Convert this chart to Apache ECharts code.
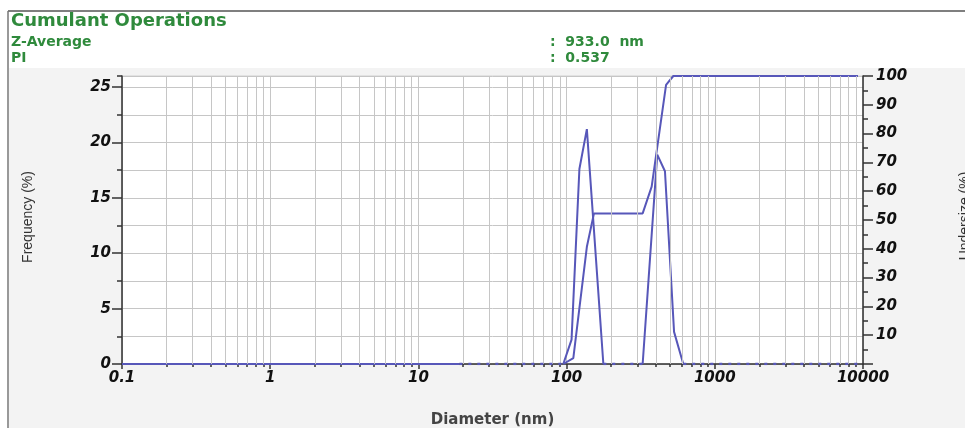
<!DOCTYPE html>
<html>
<head>
<meta charset="utf-8">
<title>Cumulant Operations</title>
<script src="https://cdn.jsdelivr.net/npm/echarts@6/dist/echarts.min.js"></script>
<style>
html, body { margin: 0; padding: 0; background: #fff; }
#chart { width: 965px; height: 428px; }
</style>
</head>
<body>
<div id="chart"></div>
<script>
// diameter (nm) and frequency (%); null = break in the trace
const freqSize = [0.1, 18.9, 50, 95, 108, 122, 137, 177, 250, 326, 409, 461, 531, 613];
const freqPct  = [0,   0,    null, 0, 2.2, 17.6, 21.2, 0, null, 0, 18.9, 17.4, 2.9, 0];

// cumulative undersize (%)
const cumSize = [95, 111, 137, 153, 326, 375, 469, 525, 9250];
const undersizePct = [0, 2.0, 40.7, 52.3, 52.3, 61.6, 96.9, 100, 100];

// dotted baseline between the peaks
const dotSize = [18.9, 95, 130, 177, 326, 450, 613, 9250];
const dotPct  = [0, 0, null, 0, 0, null, 0, 0];

const xTicks = [0.1, 1, 10, 100, 1000, 10000];
const leftTicks = [0, 5, 10, 15, 20, 25];
const minorSteps = [2, 3, 4, 5, 6, 7, 8, 9];

const green = '#2f8a3c';
const lineColor = '#5757b9';
const gridColor = '#c6c6c6';
const tickFont = { fontFamily: 'DejaVu Sans', fontWeight: 'bold', fontStyle: 'italic', fontSize: 15, color: '#111' };

function pairs(xs, ys) {
  return xs.map((x, i) => [x, ys[i] === null ? '-' : ys[i]]);
}

// vertical grid lines at 2..9 of each decade
let minorLines = [];
xTicks.slice(0, -1).forEach(d => {
  minorSteps.forEach(m => minorLines.push({ xAxis: +(d * m).toPrecision(3) }));
});

const chart = echarts.init(document.getElementById('chart'));

let option = {
  animation: false,
  grid: {
    left: 122, right: 102, top: 76, bottom: 64,
    outerBoundsMode: 'none',
    show: true,
    backgroundColor: '#fff',
    borderColor: '#d0d0d0',
    borderWidth: 1
  },
  graphic: [
    { type: 'rect', z: -100, shape: { x: 9, y: 68, width: 956, height: 360 }, style: { fill: '#f3f3f3' } },
    { type: 'line', shape: { x1: 8, y1: 11, x2: 965, y2: 11 }, style: { stroke: '#555', lineWidth: 1.5 } },
    { type: 'line', shape: { x1: 8, y1: 11, x2: 8, y2: 428 }, style: { stroke: '#777', lineWidth: 1.5 } },
    { type: 'text', x: 11, y: 12, style: { text: 'Cumulant Operations', fill: green, font: 'bold 18px "DejaVu Sans"' } },
    { type: 'text', x: 11, y: 35, style: { text: 'Z-Average', fill: green, font: 'bold 14px "DejaVu Sans"' } },
    { type: 'text', x: 11, y: 51, style: { text: 'PI', fill: green, font: 'bold 14px "DejaVu Sans"' } },
    { type: 'text', x: 550, y: 35, style: { text: ':  933.0  nm', fill: green, font: 'bold 14px "DejaVu Sans"' } },
    { type: 'text', x: 550, y: 51, style: { text: ':  0.537', fill: green, font: 'bold 14px "DejaVu Sans"' } },
    { type: 'text', x: 28, y: 217, rotation: Math.PI / 2,
      style: { text: 'Frequency (%)', fill: '#333', font: '14px "Liberation Sans"', textAlign: 'center', textVerticalAlign: 'middle' } },
    { type: 'text', x: 965, y: 216, rotation: Math.PI / 2,
      style: { text: 'Undersize (%)', fill: '#333', font: '14px "Liberation Sans"', textAlign: 'center', textVerticalAlign: 'middle' } }
  ],
  xAxis: {
    type: 'log',
    logBase: 10,
    min: 0.1,
    max: 10000,
    name: 'Diameter (nm)',
    nameLocation: 'middle',
    nameGap: 49,
    nameTextStyle: { fontFamily: 'DejaVu Sans', fontWeight: 'bold', fontSize: 15, color: '#444' },
    axisLine: { lineStyle: { color: '#333', width: 1.5 } },
    axisTick: { show: true, length: 5, lineStyle: { color: '#333', width: 1.5 } },
    minorTick: { show: true, splitNumber: 9, length: 3, lineStyle: { color: '#333', width: 1.5 } },
    axisLabel: Object.assign({ margin: 7, showMaxLabel: true, showMinLabel: true,
      formatter: v => String(v) }, tickFont),
    splitLine: { show: true, lineStyle: { color: gridColor, width: 1 } }
  },
  yAxis: [
    {
      type: 'value', position: 'left', min: 0, max: 26, interval: 5,
      axisLine: { show: true, lineStyle: { color: '#333', width: 1.5 } },
      axisTick: { show: true, length: 10, customValues: leftTicks, lineStyle: { color: '#333', width: 1.5 } },
      axisLabel: Object.assign({ margin: 11, customValues: leftTicks }, tickFont),
      splitLine: { show: false }
    },
    {
      type: 'value', position: 'right', min: 0, max: 100, interval: 10,
      axisLine: { show: true, lineStyle: { color: '#333', width: 1.5 } },
      axisTick: { show: true, length: 10, lineStyle: { color: '#333', width: 1.5 } },
      minorTick: { show: true, splitNumber: 2, length: 5, lineStyle: { color: '#333', width: 1.5 } },
      axisLabel: Object.assign({ margin: 13, formatter: v => (v === 0 ? '' : v) }, tickFont),
      splitLine: { show: false }
    },
    {
      // minor ticks + horizontal grid every 2.5
      type: 'value', position: 'left', min: 0, max: 26, interval: 2.5,
      axisLine: { show: false },
      axisTick: { show: true, length: 5, lineStyle: { color: '#333', width: 1.5 } },
      axisLabel: { show: false },
      splitLine: { show: true, lineStyle: { color: gridColor, width: 1 } }
    }
  ],
  series: [
    {
      name: 'grid',
      type: 'line',
      data: [],
      silent: true,
      z: 1,
      markLine: {
        silent: true,
        symbol: 'none',
        label: { show: false },
        lineStyle: { color: gridColor, width: 1, type: 'solid' },
        data: minorLines
      }
    },
    {
      name: 'Baseline',
      type: 'line',
      yAxisIndex: 0,
      data: pairs(dotSize, dotPct),
      symbol: 'none',
      lineStyle: { color: lineColor, width: 2.5, type: [3, 6] },
      z: 5
    },
    {
      name: 'Frequency',
      type: 'line',
      yAxisIndex: 0,
      data: pairs(freqSize, freqPct),
      symbol: 'none',
      lineStyle: { color: lineColor, width: 2 },
      z: 4
    },
    {
      name: 'Undersize',
      type: 'line',
      yAxisIndex: 1,
      data: pairs(cumSize, undersizePct),
      symbol: 'none',
      lineStyle: { color: lineColor, width: 2 },
      z: 4
    }
  ]
};

chart.setOption(option);
</script>
</body>
</html>
